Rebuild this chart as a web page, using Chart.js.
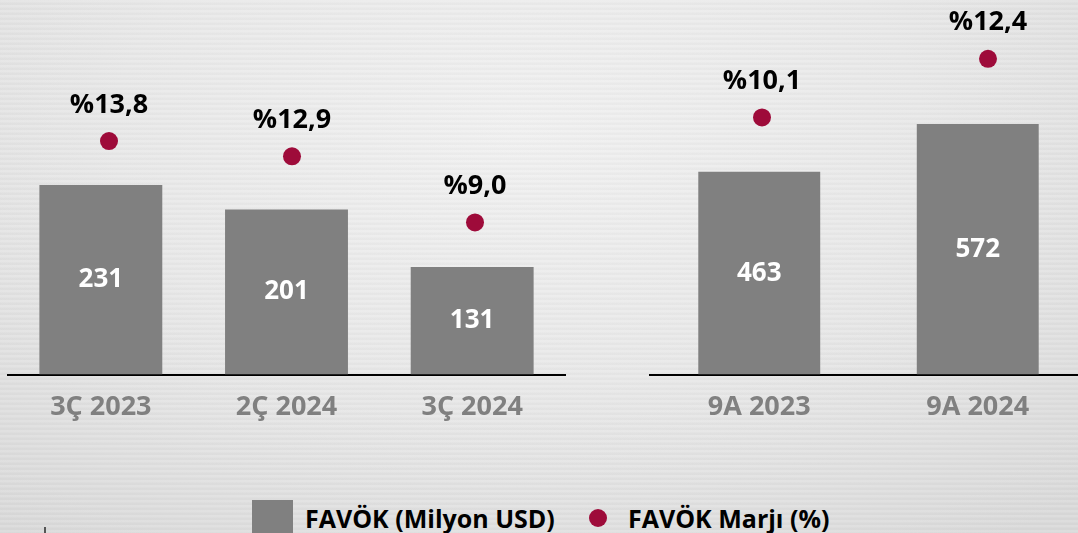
<!DOCTYPE html>
<html>
<head>
<meta charset="utf-8">
<script src="https://cdn.jsdelivr.net/npm/chart.js@4"></script>
<style>
  html, body { margin: 0; padding: 0; }
  body {
    width: 1078px; height: 533px; overflow: hidden; position: relative;
    font-family: "Open Sans", sans-serif;
    background:
      repeating-linear-gradient(180deg, rgba(255,255,255,0.10) 0px, rgba(255,255,255,0.10) 2px, rgba(0,0,0,0.015) 3px, rgba(0,0,0,0.015) 5px),
      radial-gradient(ellipse 75% 95% at 48% 25%, #f0f0f0 0%, #e8e8e8 50%, #d9d9d9 100%);
  }
  canvas { position: absolute; top: 0; }
  #left, #leftDots { left: 0; }
  #right, #rightDots { left: 640px; }
  .legend { position: absolute; top: 500px; left: 0; width: 1078px; height: 33px; }
  .sq { position: absolute; left: 252px; top: 0; width: 41px; height: 33px; background: #808080; }
  .dot { position: absolute; left: 589px; top: 9px; width: 18px; height: 18px; border-radius: 50%; background: #9e0b3a; }
  .lt { position: absolute; top: 2px; font-weight: bold; font-size: 25px; line-height: 32px; color: #000; white-space: nowrap; }
  .mark { position: absolute; left: 44px; top: 527px; width: 2px; height: 6px; background: #555; }
</style>
</head>
<body>
<canvas id="left" width="580" height="448"></canvas>
<canvas id="right" width="460" height="448"></canvas>
<canvas id="leftDots" width="580" height="448"></canvas>
<canvas id="rightDots" width="470" height="448"></canvas>
<div class="legend">
  <div class="sq"></div>
  <div class="lt" style="left:305px">FAVÖK (Milyon USD)</div>
  <div class="dot"></div>
  <div class="lt" style="left:628px">FAVÖK Marjı (%)</div>
</div>
<div class="mark"></div>
<script>
// quarterly panel
var quarterLabels = ["3Ç 2023", "2Ç 2024", "3Ç 2024"];
var quarterEbitda = [231, 201, 131];
var quarterMargin = [13.8, 12.9, 9.0];
// nine-month panel
var ninemLabels = ["9A 2023", "9A 2024"];
var ninemEbitda = [463, 572];
var ninemMargin = [10.1, 12.4];

var barColor = "#808080";
var dotColor = "#9e0b3a";

var barLabels = {
    id: 'barLabels',
    afterDatasetsDraw: function (chart) {
        var c = chart.ctx;
        c.save();
        c.textAlign = 'center';
        c.textBaseline = 'middle';
        c.fillStyle = '#fff';
        c.font = 'bold 26px "Open Sans"';
        chart.getDatasetMeta(0).data.forEach(function (el, i) {
            c.fillText(chart.data.datasets[0].data[i], el.x, (el.y + el.base) / 2);
        });
        c.restore();
    }
};

var dotLabels = {
    id: 'dotLabels',
    afterDatasetsDraw: function (chart) {
        var c = chart.ctx;
        c.save();
        c.textAlign = 'center';
        c.textBaseline = 'middle';
        c.fillStyle = '#000';
        c.font = 'bold 27px "Open Sans"';
        chart.getDatasetMeta(0).data.forEach(function (el, i) {
            var v = chart.data.datasets[0].data[i];
            c.fillText('%' + v.toFixed(1).replace('.', ','), el.x, el.y - 36);
        });
        c.restore();
    }
};

function barChart(id, labels, values, yMax, barPct, pad) {
    return new Chart(document.getElementById(id), {
        type: 'bar',
        data: {
            labels: labels,
            datasets: [{
                label: "FAVÖK (Milyon USD)",
                data: values,
                backgroundColor: barColor,
                barPercentage: barPct,
                categoryPercentage: 1
            }]
        },
        options: {
            responsive: false,
            animation: false,
            layout: { padding: pad },
            plugins: { legend: { display: false }, tooltip: { enabled: false } },
            scales: {
                x: {
                    grid: { display: false, drawTicks: false },
                    border: { display: true, color: '#000', width: 2 },
                    ticks: {
                        color: '#808080',
                        padding: 17,
                        font: { family: 'Open Sans', weight: 'bold', size: 27 }
                    }
                },
                y: { display: false, min: 0, max: yMax }
            }
        },
        plugins: [barLabels]
    });
}

// margin dots drawn on a transparent overlay, their categories sit a little off the bars
function dotChart(id, labels, values, yMax, pad) {
    return new Chart(document.getElementById(id), {
        type: 'line',
        data: {
            labels: labels,
            datasets: [{
                label: "FAVÖK Marjı (%)",
                data: values,
                showLine: false,
                pointRadius: 9,
                pointBackgroundColor: dotColor,
                pointBorderWidth: 0
            }]
        },
        options: {
            responsive: false,
            animation: false,
            layout: { padding: pad },
            plugins: { legend: { display: false }, tooltip: { enabled: false } },
            scales: {
                x: { display: false, offset: true },
                y: { display: false, min: 0, max: yMax }
            }
        },
        plugins: [dotLabels]
    });
}

barChart('left', quarterLabels, quarterEbitda, 431.9, 0.662, { left: 8, right: 15, top: 20, bottom: 7 });
barChart('right', ninemLabels, ninemEbitda, 809.6, 0.558, { left: 10, right: 13, top: 20, bottom: 7 });
dotChart('leftDots', quarterLabels, quarterMargin, 20.94, { left: 17.5, right: 13.5, top: 20, bottom: 73 });
dotChart('rightDots', ninemLabels, ninemMargin, 13.92, { left: 8.5, right: 3.5, top: 20, bottom: 73 });
</script>
</body>
</html>
